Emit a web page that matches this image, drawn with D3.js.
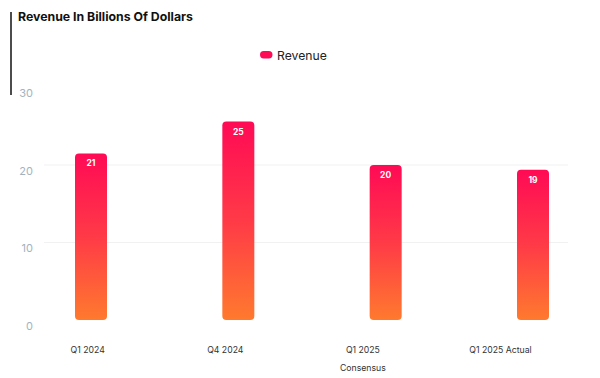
<!DOCTYPE html>
<html><head><meta charset="utf-8">
<script src="https://cdn.jsdelivr.net/npm/d3@7"></script>
<style>html,body{margin:0;padding:0;background:#fff;}svg{display:block;font-family:Inter,"Noto Sans",sans-serif;}</style>
</head><body><svg id="c" width="600" height="378"></svg>
<script>
const categories = ["Q1 2024", "Q4 2024", "Q1 2025 Consensus", "Q1 2025 Actual"];
const categoryLines = [["Q1 2024"], ["Q4 2024"], ["Q1 2025", "Consensus"], ["Q1 2025 Actual"]];
const revenue = [21.5, 25.6, 20.0, 19.4];
const yTicks = [0, 10, 20, 30];
const seriesName = "Revenue";
const title = "Revenue In Billions Of Dollars";

const svg = d3.select("#c");
const defs = svg.append("defs");
const grad = defs.append("linearGradient").attr("id", "g").attr("x1", 0).attr("y1", 0).attr("x2", 0).attr("y2", 1);
grad.append("stop").attr("offset", "0%").attr("stop-color", "#ff0a55");
grad.append("stop").attr("offset", "50%").attr("stop-color", "#ff3a47");
grad.append("stop").attr("offset", "100%").attr("stop-color", "#ff7a2e");

const y = d3.scaleLinear().domain([0, 30]).range([320, 87.5]);
const xBar = d3.scalePoint().domain(categories).range([91, 533]);
const xLab = d3.scalePoint().domain(categories).range([87.7, 500.5]);
const barW = 32;

// title + accent line
svg.append("line").attr("x1", 11).attr("x2", 11).attr("y1", 12).attr("y2", 95).attr("stroke", "#111").attr("stroke-width", 1.5);
svg.append("text").attr("x", 18).attr("y", 20.5).attr("font-size", 12.3).attr("font-weight", 700).attr("fill", "#111").text(title);

// legend
svg.append("rect").attr("x", 260).attr("y", 51).attr("width", 12.5).attr("height", 7.5).attr("rx", 3.7).attr("fill", "#ff0a55");
svg.append("text").attr("x", 277).attr("y", 59.5).attr("font-size", 12.2).attr("fill", "#222").text(seriesName);

// gridlines
svg.append("g").selectAll("line").data(yTicks.filter(t => t > 0 && t < 30)).join("line")
  .attr("x1", 44).attr("x2", 568).attr("y1", d => y(d)).attr("y2", d => y(d))
  .attr("stroke", "#f1f1f1").attr("stroke-width", 1);

// y axis labels
const yAxis = d3.axisLeft(y).tickValues(yTicks).tickSize(0).tickPadding(0);
const ya = svg.append("g").attr("transform", "translate(33,5.5)").call(yAxis);
ya.select(".domain").remove();
ya.selectAll("text").attr("font-size", 11).attr("fill", "#a3b3be").attr("font-family", "Inter,sans-serif");

// bars
svg.append("g").selectAll("rect").data(revenue).join("rect")
  .attr("x", (d, i) => xBar(categories[i]) - barW / 2)
  .attr("width", barW)
  .attr("y", d => y(d))
  .attr("height", d => y(0) - y(d))
  .attr("rx", 4)
  .attr("fill", "url(#g)");

// value labels
svg.append("g").selectAll("text").data(revenue).join("text")
  .attr("x", (d, i) => xBar(categories[i]))
  .attr("y", d => y(d) + 13)
  .attr("text-anchor", "middle").attr("font-size", 8.5).attr("font-weight", 700).attr("fill", "#fff")
  .text(d => Math.trunc(d));

// x labels
const xl = svg.append("g").selectAll("text").data(categories).join("text")
  .attr("x", d => xLab(d)).attr("y", 352.5)
  .attr("text-anchor", "middle").attr("font-size", 8.7).attr("fill", "#333");
xl.each(function(d, i) {
  const t = d3.select(this);
  categoryLines[i].forEach((line, j) => {
    t.append("tspan").attr("x", xLab(d)).attr("dy", j === 0 ? 0 : 18.5).text(line);
  });
});
</script></body></html>
